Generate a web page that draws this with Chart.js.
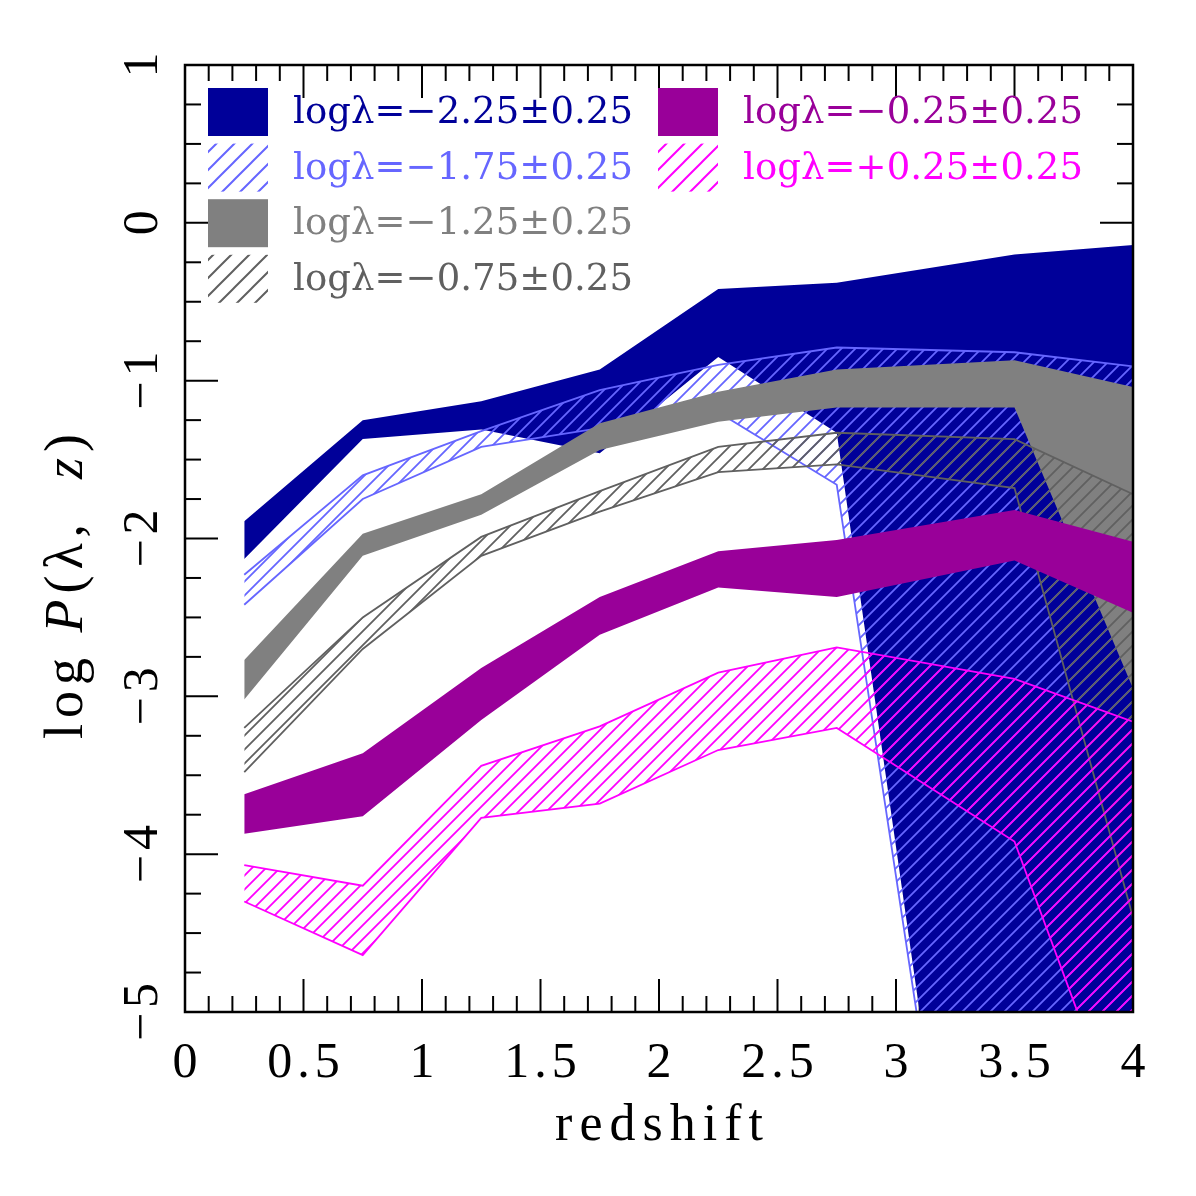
<!DOCTYPE html>
<html>
<head>
<meta charset="utf-8">
<script src="https://cdn.jsdelivr.net/npm/chart.js@4.4.0/dist/chart.umd.min.js"></script>
<style>
  body { margin: 0; background: #fff; }
</style>
</head>
<body>
<canvas id="plot" width="1196" height="1196"></canvas>
<script>
// redshift bins
var redshift = [0.25, 0.75, 1.25, 1.75, 2.25, 2.75, 3.5, 4.0];

// log P(lambda, z) upper / lower edge of each band
var lamM225Hi = [-1.89, -1.25, -1.13, -0.93, -0.42, -0.38, -0.20, -0.14];
var lamM225Lo = [-2.13, -1.37, -1.31, -1.46, -0.85, -1.33, -9.20, -9.60];
var lamM175Hi = [-2.23, -1.60, -1.32, -1.06, -0.90, -0.79, -0.82, -0.91];
var lamM175Lo = [-2.42, -1.75, -1.42, -1.30, -1.20, -1.66, -9.10, -9.50];
var lamM125Hi = [-2.77, -1.97, -1.72, -1.27, -1.07, -0.93, -0.87, -1.04];
var lamM125Lo = [-3.02, -2.11, -1.85, -1.44, -1.26, -1.17, -1.17, -2.95];
var lamM075Hi = [-3.20, -2.50, -1.99, -1.70, -1.42, -1.33, -1.37, -1.72];
var lamM075Lo = [-3.48, -2.70, -2.11, -1.83, -1.58, -1.53, -1.68, -4.40];
var lamM025Hi = [-3.62, -3.36, -2.82, -2.37, -2.08, -2.01, -1.82, -2.02];
var lamM025Lo = [-3.87, -3.76, -3.15, -2.61, -2.31, -2.37, -2.14, -2.47];
var lamP025Hi = [-4.07, -4.20, -3.44, -3.19, -2.85, -2.69, -2.89, -3.16];
var lamP025Lo = [-4.30, -4.64, -3.77, -3.68, -3.34, -3.20, -3.92, -5.95];

var xTickValues = [0, 0.5, 1, 1.5, 2, 2.5, 3, 3.5, 4];
var xTickLabels = ['0', '0.5', '1', '1.5', '2', '2.5', '3', '3.5', '4'];
var yTickValues = [-5, -4, -3, -2, -1, 0, 1];
var yTickLabels = ['\u22125', '\u22124', '\u22123', '\u22122', '\u22121', '0', '1'];

var legendLabels = [
  'log\u03bb=\u22122.25\u00b10.25',
  'log\u03bb=\u22121.75\u00b10.25',
  'log\u03bb=\u22121.25\u00b10.25',
  'log\u03bb=\u22120.75\u00b10.25',
  'log\u03bb=\u22120.25\u00b10.25',
  'log\u03bb=+0.25\u00b10.25'
];

function hatch(color, step, width) {
  var c = document.createElement('canvas');
  c.width = step; c.height = step;
  var g = c.getContext('2d');
  g.strokeStyle = color;
  g.lineWidth = width;
  g.beginPath();
  g.moveTo(-2, step + 2); g.lineTo(step + 2, -2);
  g.moveTo(-2, 2); g.lineTo(2, -2);
  g.moveTo(step - 2, step + 2); g.lineTo(step + 2, step - 2);
  g.stroke();
  return g.createPattern(c, 'repeat');
}

var ctx0 = document.getElementById('plot').getContext('2d');

var bands = [
  { hi: lamM225Hi, lo: lamM225Lo, color: '#000099', hatched: false },
  { hi: lamM175Hi, lo: lamM175Lo, color: '#6666ff', hatched: true },
  { hi: lamM125Hi, lo: lamM125Lo, color: '#808080', hatched: false },
  { hi: lamM075Hi, lo: lamM075Lo, color: '#606060', hatched: true },
  { hi: lamM025Hi, lo: lamM025Lo, color: '#990099', hatched: false },
  { hi: lamP025Hi, lo: lamP025Lo, color: '#ff00ff', hatched: true }
];
// legend slots: column, row
var legendSlots = [[0, 0], [0, 1], [0, 2], [0, 3], [1, 0], [1, 1]];

function pts(arr) {
  return redshift.map(function (z, i) { return { x: z, y: arr[i] }; });
}

var datasets = [];
bands.forEach(function (b, k) {
  var ord = 60 - 10 * k;
  var lineW = b.hatched ? 1.8 : 0;
  var lineC = b.hatched ? b.color : 'transparent';
  datasets.push({
    data: pts(b.hi), order: ord,
    borderColor: lineC, borderWidth: lineW,
    backgroundColor: b.hatched ? hatch(b.color, 14, 1.8) : b.color,
    fill: '+1', pointRadius: 0, tension: 0
  });
  datasets.push({
    data: pts(b.lo), order: ord - 5,
    borderColor: lineC, borderWidth: lineW,
    fill: false, pointRadius: 0, tension: 0
  });
});

function line(ctx, x1, y1, x2, y2) {
  ctx.beginPath(); ctx.moveTo(x1, y1); ctx.lineTo(x2, y2); ctx.stroke();
}

var frame = {
  id: 'frame',
  beforeDatasetsDraw: function (chart) {
    var ctx = chart.ctx, a = chart.chartArea;
    var xs = chart.scales.x, ys = chart.scales.y;
    ctx.save();
    ctx.strokeStyle = '#000';
    ctx.lineWidth = 2;
    for (var i = 0; i <= 40; i++) {
      var px = xs.getPixelForValue(i / 10);
      var len = i % 5 === 0 ? 33 : 16;
      line(ctx, px, a.bottom, px, a.bottom - len);
      line(ctx, px, a.top, px, a.top + len);
    }
    for (var j = -20; j <= 4; j++) {
      var py = ys.getPixelForValue(j / 4);
      var len2 = j % 4 === 0 ? 33 : 16;
      line(ctx, a.left, py, a.left + len2, py);
      line(ctx, a.right, py, a.right - len2, py);
    }
    ctx.restore();
  },
  afterDatasetsDraw: function (chart) {
    var ctx = chart.ctx, a = chart.chartArea;
    ctx.save();
    ctx.strokeStyle = '#000';
    ctx.lineWidth = 2.5;
    ctx.strokeRect(a.left, a.top, a.right - a.left, a.bottom - a.top);
    ctx.restore();
  },
  afterDraw: function (chart) {
    var ctx = chart.ctx, a = chart.chartArea;
    var xs = chart.scales.x, ys = chart.scales.y;
    ctx.save();
    ctx.fillStyle = '#000';
    ctx.font = '50px "Liberation Serif"';
    ctx.letterSpacing = '5px';
    ctx.textBaseline = 'alphabetic';
    ctx.textAlign = 'left';
    xTickValues.forEach(function (v, i) {
      var w = ctx.measureText(xTickLabels[i]).width - 5;
      ctx.fillText(xTickLabels[i], xs.getPixelForValue(v) - w / 2, 1077);
    });
    yTickValues.forEach(function (v, i) {
      var w = ctx.measureText(yTickLabels[i]).width - 5;
      ctx.save();
      ctx.translate(157, ys.getPixelForValue(v));
      ctx.rotate(-Math.PI / 2);
      ctx.fillText(yTickLabels[i], -w / 2, 0);
      ctx.restore();
    });

    // x title
    ctx.font = '52px "Liberation Serif"';
    ctx.letterSpacing = '7px';
    var tw = ctx.measureText('redshift').width - 7;
    ctx.fillText('redshift', (a.left + a.right) / 2 - tw / 2, 1140);

    // y title, mixed roman / italic
    var roman = '54px "Liberation Serif"', ital = 'italic 54px "Liberation Serif"';
    var runs = [['log', roman], [' ', roman], ['P', ital], ['(\u03bb,', roman], ['  ', roman], ['z', ital], [')', roman]];
    ctx.letterSpacing = '6px';
    var total = 0;
    runs.forEach(function (r) { ctx.font = r[1]; total += ctx.measureText(r[0]).width; });
    ctx.save();
    ctx.translate(82, (a.top + a.bottom) / 2 + 45);
    ctx.rotate(-Math.PI / 2);
    var cx = -total / 2;
    runs.forEach(function (r) {
      ctx.font = r[1];
      ctx.fillText(r[0], cx, 0);
      cx += ctx.measureText(r[0]).width;
    });
    ctx.restore();

    // legend
    ctx.font = '37px "DejaVu Serif"';
    bands.forEach(function (b, k) {
      var col = legendSlots[k][0], row = legendSlots[k][1];
      var bx = col === 0 ? 208 : 658;
      var by = 88 + row * 55.6;
      ctx.fillStyle = b.hatched ? hatch(b.color, 18, 2) : b.color;
      ctx.fillRect(bx, by, 60, 48);
      var target = 340;
      ctx.letterSpacing = '0px';
      var w0 = ctx.measureText(legendLabels[k]).width;
      var sp = (target - w0) / (legendLabels[k].length - 1);
      ctx.letterSpacing = sp.toFixed(2) + 'px';
      ctx.fillStyle = b.color;
      ctx.fillText(legendLabels[k], bx + 85, by + 35);
    });
    ctx.restore();
  }
};

new Chart(ctx0, {
  type: 'line',
  data: { datasets: datasets },
  options: {
    responsive: false,
    devicePixelRatio: 1,
    animation: false,
    layout: { padding: { left: 185, right: 63, top: 65, bottom: 184 } },
    plugins: { legend: { display: false }, tooltip: { enabled: false } },
    scales: {
      x: { type: 'linear', min: 0, max: 4, display: false },
      y: { type: 'linear', min: -5, max: 1, display: false }
    }
  },
  plugins: [frame]
});
</script>
</body>
</html>
